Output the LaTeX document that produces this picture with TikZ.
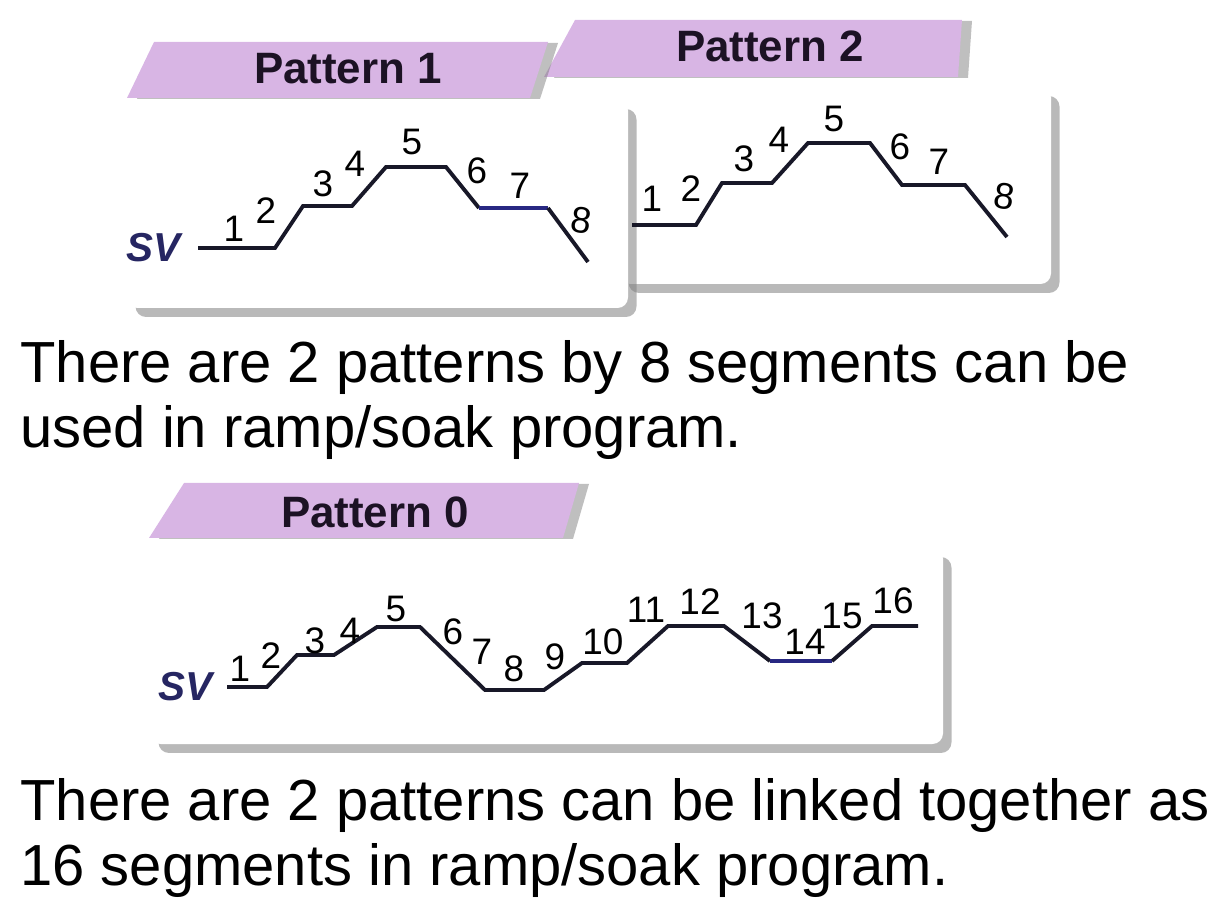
\documentclass[tikz,border=0pt]{standalone}
\usepackage{fontspec}
\setmainfont{Liberation Sans}
\usepackage{xcolor}
\usetikzlibrary{shadows,positioning}
\definecolor{tabpurple}{RGB}{216,181,228}
\definecolor{tabtext}{RGB}{28,18,36}
\definecolor{rampblack}{RGB}{24,24,40}
\definecolor{rampblue}{RGB}{40,40,130}
\definecolor{svblue}{RGB}{38,38,98}

\begin{document}
\begin{tikzpicture}[
    x=0.02cm, y=-0.02cm,
    panel/.style={fill=white, rounded corners=6pt, drop shadow={shadow xshift=0.17cm, shadow yshift=-0.18cm, opacity=0.55, fill=gray}},
    tab/.style={fill=tabpurple, drop shadow={shadow xshift=0.2cm, shadow yshift=-0.02cm, opacity=0.5, fill=gray}},
    tablabel/.style={font=\bfseries\fontsize{25}{30}\selectfont, text=tabtext, inner sep=0pt},
    seg/.style={font=\fontsize{21}{25}\selectfont, inner sep=0pt},
    sv/.style={font=\bfseries\itshape\fontsize{23}{27}\selectfont, text=svblue, inner sep=0pt},
    ramp/.style={draw=rampblack, line width=2.2pt, line join=miter},
    note/.style={font=\fontsize{33}{37}\selectfont, anchor=base west, inner sep=0pt}
]
    \useasboundingbox (0,0) rectangle (1228,898);

    % Pattern 2 (behind)
    \path[panel] (620,87) rectangle (1051,284);
    \path[tab] (544,77) -- (575,20) -- (962,20) -- (958,77) -- cycle;
    \node[tablabel] (tab2) at (770,46) {Pattern 2};

    % Pattern 1
    \path[panel] (127,100) rectangle (628,308);
    \path[tab] (127,98) -- (154,42) -- (548,42) -- (530,98) -- cycle;
    \node[tablabel] (tab1) at (348,69) {Pattern 1};

    % Pattern 0
    \path[panel] (150,548) rectangle (943,744);
    \path[tab] (149,538) -- (184,483) -- (579,483) -- (563,538) -- cycle;
    \node[tablabel] (tab0) at (375,512) {Pattern 0};

    % Ramp of pattern 1
    \node[sv] (sv1) at (153,248) {SV};
    \coordinate (p1a) at (198,248);
    \coordinate (p1b) at (275,248);
    \coordinate (p1c) at (303,206);
    \coordinate (p1d) at (352,206);
    \coordinate (p1e) at (386,167);
    \coordinate (p1f) at (446,167);
    \coordinate (p1g) at (479,208);
    \coordinate (p1h) at (548,208);
    \coordinate (p1i) at (588,262);
    \draw[ramp] (p1a) -- (p1b) -- (p1c) -- (p1d) -- (p1e) -- (p1f) -- (p1g);
    \draw[ramp, draw=rampblue] (p1g) -- (p1h);
    \draw[ramp] (p1h) -- (p1i);
    \node[seg] (p1n1) at (234,229) {1};
    \node[seg] (p1n2) at (266,211) {2};
    \node[seg] (p1n3) at (323,184) {3};
    \node[seg] (p1n4) at (355,164) {4};
    \node[seg] (p1n5) at (412,142) {5};
    \node[seg] (p1n6) at (477,171) {6};
    \node[seg] (p1n7) at (520,186) {7};
    \node[seg, rotate=-8] (p1n8) at (581,220) {8};

    % Ramp of pattern 2
    \coordinate (p2a) at (632,225);
    \coordinate (p2b) at (696,225);
    \coordinate (p2c) at (722,183);
    \coordinate (p2d) at (772,183);
    \coordinate (p2e) at (808,143);
    \coordinate (p2f) at (870,143);
    \coordinate (p2g) at (902,185);
    \coordinate (p2h) at (965,185);
    \coordinate (p2i) at (1007,237);
    \draw[ramp] (p2a) -- (p2b) -- (p2c) -- (p2d) -- (p2e) -- (p2f) -- (p2g) -- (p2h) -- (p2i);
    \node[seg] (p2n1) at (652,199) {1};
    \node[seg] (p2n2) at (691,189) {2};
    \node[seg] (p2n3) at (744,159) {3};
    \node[seg] (p2n4) at (779,140) {4};
    \node[seg] (p2n5) at (834,119) {5};
    \node[seg] (p2n6) at (900,147) {6};
    \node[seg] (p2n7) at (939,162) {7};
    \node[seg, rotate=-8] (p2n8) at (1004,196) {8};

    % Ramp of pattern 0
    \node[sv] (sv0) at (185,687) {SV};
    \coordinate (p0a) at (227,687);
    \coordinate (p0b) at (267,687);
    \coordinate (p0c) at (297,655);
    \coordinate (p0d) at (334,655);
    \coordinate (p0e) at (377,627);
    \coordinate (p0f) at (420,627);
    \coordinate (p0g) at (485,690);
    \coordinate (p0h) at (544,690);
    \coordinate (p0i) at (582,663);
    \coordinate (p0j) at (627,663);
    \coordinate (p0k) at (668,626);
    \coordinate (p0l) at (724,626);
    \coordinate (p0m) at (770,661);
    \coordinate (p0n) at (832,661);
    \coordinate (p0o) at (872,626);
    \coordinate (p0p) at (918,626);
    \draw[ramp] (p0a) -- (p0b) -- (p0c) -- (p0d) -- (p0e) -- (p0f) -- (p0g) -- (p0h)
        -- (p0i) -- (p0j) -- (p0k) -- (p0l) -- (p0m);
    \draw[ramp, draw=rampblue] (p0m) -- (p0n);
    \draw[ramp] (p0n) -- (p0o) -- (p0p);
    \node[seg] (p0n1) at (240,669) {1};
    \node[seg] (p0n2) at (271,656) {2};
    \node[seg] (p0n3) at (315,641) {3};
    \node[seg] (p0n4) at (350,631) {4};
    \node[seg] (p0n5) at (396,609) {5};
    \node[seg] (p0n6) at (453,632) {6};
    \node[seg] (p0n7) at (482,652) {7};
    \node[seg] (p0n8) at (514,669) {8};
    \node[seg] (p0n9) at (555,657) {9};
    \node[seg] (p0n10) at (603,642) {10};
    \node[seg] (p0n11) at (646,610) {11};
    \node[seg] (p0n12) at (700,602) {12};
    \node[seg] (p0n13) at (762,616) {13};
    \node[seg] (p0n14) at (805,642) {14};
    \node[seg] (p0n15) at (842,616) {15};
    \node[seg] (p0n16) at (893,601) {16};

    % Notes
    \node[note] (note1a) at (20,383) {There are 2 patterns by 8 segments can be};
    \node[note] (note1b) at (20,448) {used in ramp/soak program.};
    \node[note] (note2a) at (20,820) {There are 2 patterns can be linked together as};
    \node[note] (note2b) at (20,885) {16 segments in ramp/soak program.};
\end{tikzpicture}
\end{document}
